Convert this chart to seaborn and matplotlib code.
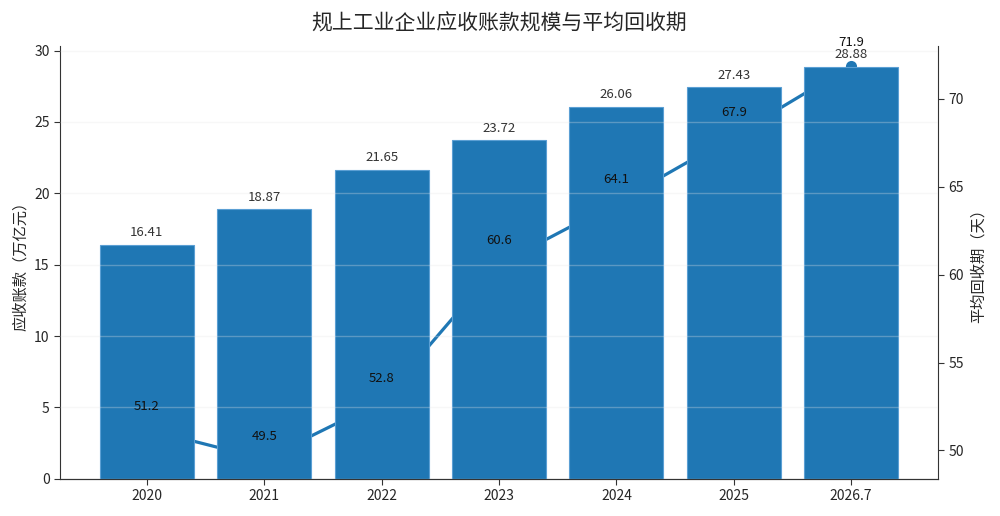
import matplotlib
matplotlib.use("Agg")
import matplotlib.pyplot as plt
import seaborn as sns

# --- 数据 ---
years = ["2020", "2021", "2022", "2023", "2024", "2025", "2026.7"]
receivables = [16.41, 18.87, 21.65, 23.72, 26.06, 27.43, 28.88]   # 万亿元
days = [51.2, 49.5, 52.8, 60.6, 64.1, 67.9, 71.9]                 # 天

BLUE = "#1f77b4"

sns.set_style("white")
plt.rcParams["font.family"] = ["Noto Sans CJK SC", "DejaVu Sans"]
plt.rcParams["axes.unicode_minus"] = False

fig, ax1 = plt.subplots(figsize=(10, 5.16), dpi=100)
fig.subplots_adjust(left=0.06, right=0.938, bottom=0.072, top=0.911)
ax2 = ax1.twinx()

# 折线画在柱子后面
ax1.set_zorder(2)
ax1.patch.set_visible(False)
ax2.set_zorder(1)

sns.barplot(x=years, y=receivables, ax=ax1, color=BLUE, saturation=1,
            width=0.8, edgecolor="#5b9fd4", linewidth=0.8)
sns.lineplot(x=years, y=days, ax=ax2, color=BLUE, linewidth=2.3,
             marker="o", markersize=8, markeredgewidth=0, sort=False)

ax1.set_ylim(0, max(receivables) * 1.05)
rng = max(days) - min(days)
ax2.set_ylim(min(days) - 0.05 * rng, max(days) + 0.05 * rng)
ax1.set_yticks([0, 5, 10, 15, 20, 25, 30])
ax2.set_yticks([50, 55, 60, 65, 70])

# 柱子数值
for i, v in enumerate(receivables):
    ax1.annotate(f"{v:.2f}", (i, v), xytext=(0, 4), textcoords="offset points",
                 ha="center", va="bottom", fontsize=9.5, color="#333333")

# 折线数值（放在上层坐标轴上，才能显示在柱子上方）
for i, v in enumerate(days):
    ax1.annotate(f"{v}", (i, v), xycoords=ax2.transData, xytext=(0, 12),
                 textcoords="offset points", ha="center", va="bottom",
                 fontsize=9.5, color="#111111", annotation_clip=False)

ax1.grid(axis="y", color="#e6e6e6", alpha=0.3, linewidth=1)
ax1.set_axisbelow(False)

ax1.set_title("规上工业企业应收账款规模与平均回收期", fontsize=15, pad=12)
ax1.set_ylabel("应收账款（万亿元）", fontsize=11)
ax2.set_ylabel("平均回收期（天）", fontsize=11)
ax1.set_xlabel("")

for ax in (ax1, ax2):
    ax.spines["top"].set_visible(False)
    ax.tick_params(labelsize=10, length=4, color="#333333")
    for s in ax.spines.values():
        s.set_color("#333333")
ax1.spines["right"].set_visible(False)
ax2.spines["left"].set_visible(False)
ax1.tick_params(axis="both", which="both", left=True, bottom=True)
ax2.tick_params(axis="y", right=True)

fig.savefig("out.png", dpi=100)
